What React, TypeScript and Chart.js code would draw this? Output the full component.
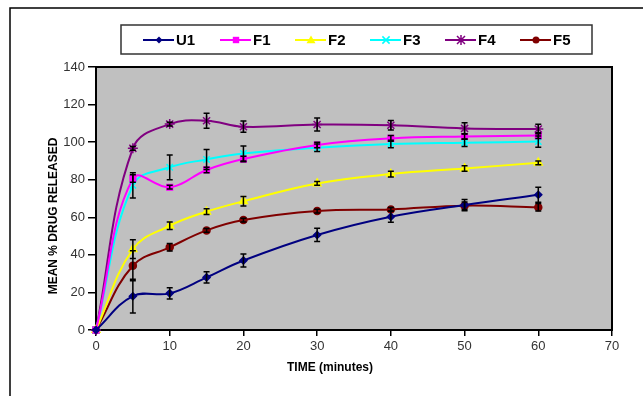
import React, { useEffect, useRef } from 'react';
import { Chart, registerables } from 'chart.js';
Chart.register(...registerables);

const times = [0, 5, 10, 15, 20, 30, 40, 50, 60];
const u1 = [0, 18, 19.5, 28, 37, 50.6, 60.3, 66.5, 72];
const f1 = [0, 80.7, 76, 85.2, 91, 98.5, 102, 103, 103.5];
const f2 = [0, 43, 55.5, 63, 68.5, 78, 83, 86, 89];
const f3 = [0, 77, 86.6, 90.8, 94, 97, 99, 99.7, 100.3];
const f4 = [0, 96.7, 109.6, 111.4, 108.2, 109.4, 109, 107.3, 107];
const f5 = [0, 34.2, 44, 53, 58.5, 63.3, 64.2, 66.2, 65.3];

const u1Err = [0, 9, 3, 3, 3.5, 3.5, 3, 3, 4];
const f1Err = [0, 2, 1, 1.5, 1.5, 1.5, 1.5, 1.5, 1.5];
const f2Err = [0, 5, 2, 1.5, 2.5, 1, 1.5, 1.5, 1];
const f3Err = [0, 6.7, 6.6, 5.3, 4, 2, 2, 2, 3];
const f4Err = [0, 1, 1, 4, 3, 3.5, 2.5, 3, 2.5];
const f5Err = [0, 8, 2, 1, 1, 1, 1, 2, 2];

const seriesNames = ['U1', 'F1', 'F2', 'F3', 'F4', 'F5'];
const seriesValues = [u1, f1, f2, f3, f4, f5];
const seriesErrors = [u1Err, f1Err, f2Err, f3Err, f4Err, f5Err];
const seriesColors = ['#000080', '#FF00FF', '#FFFF00', '#00FFFF', '#800080', '#800000'];
const seriesMarkers = ['rectRot', 'rect', 'triangle', 'crossRot', 'star', 'circle'];
const seriesRadius = [3.5, 4, 4.5, 4.5, 5, 3.5];

const xTitle = 'TIME (minutes)';
const yTitle = 'MEAN % DRUG RELEASED';
const FONT = '"Liberation Sans", Arial, sans-serif';

function drawMarker(ctx: CanvasRenderingContext2D, style: string, r: number, x: number, y: number, color: string) {
  ctx.save();
  ctx.fillStyle = color;
  ctx.strokeStyle = color;
  ctx.lineWidth = 1.5;
  ctx.beginPath();
  if (style === 'rectRot') {
    ctx.moveTo(x, y - r); ctx.lineTo(x + r, y); ctx.lineTo(x, y + r); ctx.lineTo(x - r, y); ctx.closePath(); ctx.fill();
  } else if (style === 'rect') {
    ctx.fillRect(x - r * 0.8, y - r * 0.8, r * 1.6, r * 1.6);
  } else if (style === 'triangle') {
    ctx.moveTo(x, y - r); ctx.lineTo(x + r, y + r * 0.7); ctx.lineTo(x - r, y + r * 0.7); ctx.closePath(); ctx.fill();
  } else if (style === 'crossRot') {
    ctx.moveTo(x - r * 0.8, y - r * 0.8); ctx.lineTo(x + r * 0.8, y + r * 0.8);
    ctx.moveTo(x + r * 0.8, y - r * 0.8); ctx.lineTo(x - r * 0.8, y + r * 0.8); ctx.stroke();
  } else if (style === 'star') {
    ctx.moveTo(x - r * 0.8, y - r * 0.8); ctx.lineTo(x + r * 0.8, y + r * 0.8);
    ctx.moveTo(x + r * 0.8, y - r * 0.8); ctx.lineTo(x - r * 0.8, y + r * 0.8);
    ctx.moveTo(x, y - r); ctx.lineTo(x, y + r); ctx.stroke();
  } else {
    ctx.arc(x, y, r, 0, Math.PI * 2); ctx.fill();
  }
  ctx.restore();
}

const decorPlugin = {
  id: 'decor',
  beforeDatasetsDraw(chart: any) {
    const { ctx, chartArea: a } = chart;
    ctx.save();
    ctx.fillStyle = '#C0C0C0';
    ctx.fillRect(a.left, a.top, a.right - a.left, a.bottom - a.top);
    ctx.strokeStyle = '#000';
    ctx.lineWidth = 2;
    ctx.strokeRect(a.left, a.top, a.right - a.left, a.bottom - a.top);
    ctx.restore();
  },
  afterDatasetsDraw(chart: any) {
    const { ctx } = chart;
    const xs = chart.scales.x;
    const ys = chart.scales.y;
    ctx.save();
    ctx.strokeStyle = '#000';
    ctx.lineWidth = 1.5;
    seriesValues.forEach((vals, si) => {
      vals.forEach((v, i) => {
        const e = seriesErrors[si][i];
        if (!e) return;
        const px = xs.getPixelForValue(times[i]);
        const top = ys.getPixelForValue(v + e);
        const bot = ys.getPixelForValue(v - e);
        ctx.beginPath();
        ctx.moveTo(px, top);
        ctx.lineTo(px, bot);
        ctx.moveTo(px - 3, top);
        ctx.lineTo(px + 3, top);
        ctx.moveTo(px - 3, bot);
        ctx.lineTo(px + 3, bot);
        ctx.stroke();
      });
    });
    ctx.restore();
  },
  afterDraw(chart: any) {
    const { ctx } = chart;
    ctx.save();
    ctx.strokeStyle = '#000';
    ctx.lineWidth = 1.5;
    ctx.beginPath();
    ctx.moveTo(10, 396);
    ctx.lineTo(10, 8);
    ctx.lineTo(643, 8);
    ctx.stroke();
    ctx.fillStyle = '#000';
    ctx.font = 'bold 12px ' + FONT;
    ctx.textAlign = 'center';
    ctx.textBaseline = 'middle';
    ctx.fillText(xTitle, 330, 368);
    ctx.translate(54, 216);
    ctx.rotate(-Math.PI / 2);
    ctx.fillText(yTitle, 0, 0);
    ctx.restore();

    ctx.save();
    ctx.fillStyle = '#fff';
    ctx.fillRect(121, 25, 471, 29);
    ctx.strokeStyle = '#333';
    ctx.lineWidth = 1.5;
    ctx.strokeRect(121, 25, 471, 29);
    const textX = [176, 253, 328, 403, 478, 553];
    const cy = 40;
    chart.data.datasets.forEach((ds: any, i: number) => {
      const tx = textX[i];
      ctx.strokeStyle = ds.borderColor;
      ctx.lineWidth = 2;
      ctx.beginPath();
      ctx.moveTo(tx - 33, cy);
      ctx.lineTo(tx - 2, cy);
      ctx.stroke();
      drawMarker(ctx, ds.pointStyle, ds.pointRadius, tx - 17, cy, ds.borderColor);
      ctx.fillStyle = '#000';
      ctx.font = 'bold 15px ' + FONT;
      ctx.textAlign = 'left';
      ctx.textBaseline = 'middle';
      ctx.fillText(ds.label, tx, cy + 1);
    });
    ctx.restore();
  },
};

export default function App() {
  const ref = useRef<HTMLCanvasElement>(null);
  useEffect(() => {
    document.body.style.margin = '0';
    const datasets = seriesNames.map((name, si) => ({
      label: name,
      data: seriesValues[si].map((v, i) => ({ x: times[i], y: v })),
      borderColor: seriesColors[si],
      backgroundColor: seriesColors[si],
      pointBackgroundColor: seriesColors[si],
      pointBorderColor: seriesColors[si],
      pointStyle: seriesMarkers[si],
      pointRadius: seriesRadius[si],
      pointBorderWidth: 1.5,
      borderWidth: 2,
      tension: 0.4,
      fill: false,
      clip: 10,
    }));
    const chart = new Chart(ref.current!, {
      type: 'line',
      data: { datasets },
      plugins: [decorPlugin],
      options: {
        animation: false,
        responsive: false,
        layout: { padding: { top: 67, right: 31, left: 0, bottom: 0 } },
        plugins: { legend: { display: false }, tooltip: { enabled: false } },
        scales: {
          x: {
            type: 'linear',
            min: 0,
            max: 70,
            ticks: { stepSize: 10, color: '#333', font: { size: 13, family: FONT }, padding: 3, maxRotation: 0 },
            grid: { drawOnChartArea: false, tickLength: 6, color: '#000', lineWidth: 1.5 },
            border: { display: false },
            afterFit: (s: any) => { s.height = 66; },
          },
          y: {
            type: 'linear',
            min: 0,
            max: 140,
            ticks: { stepSize: 20, color: '#333', font: { size: 13, family: FONT }, padding: 3 },
            grid: { drawOnChartArea: false, tickLength: 8, color: '#000', lineWidth: 1.5 },
            border: { display: false },
            afterFit: (s: any) => { s.width = 96; },
          },
        },
      } as any,
    });
    return () => chart.destroy();
  }, []);
  return (
    <div style={{ position: 'absolute', left: 0, top: 0, width: 643, height: 396, background: '#fff' }}>
      <canvas ref={ref} width={643} height={396} style={{ display: 'block', width: 643, height: 396 }} />
    </div>
  );
}
